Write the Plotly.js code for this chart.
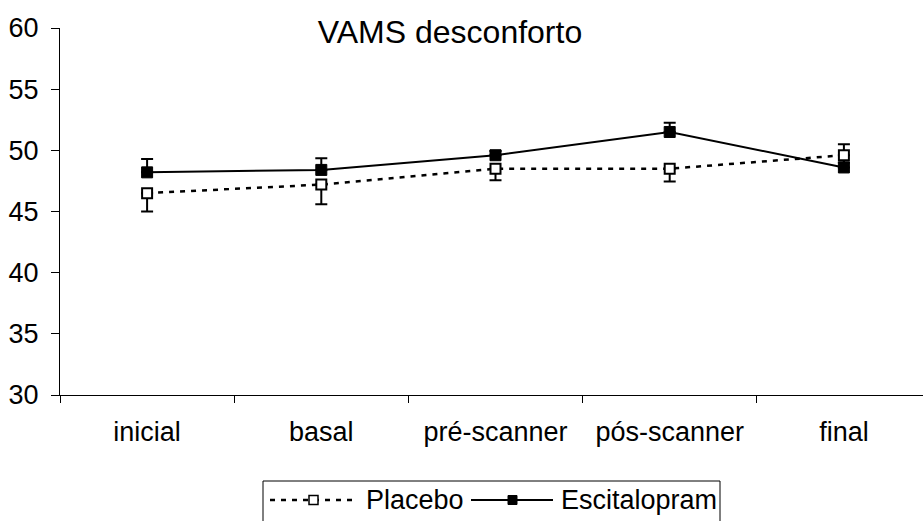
<!DOCTYPE html>
<html>
<head>
<meta charset="utf-8">
<script src="https://cdn.plot.ly/plotly-3.0.1.min.js"></script>
<style>
  html, body { margin: 0; padding: 0; background: #fff; }
  #chart { width: 923px; height: 521px; }
</style>
</head>
<body>
<div id="chart"></div>
<script>
// Visits along the study
var categories = ['inicial', 'basal', 'pré-scanner', 'pós-scanner', 'final'];

// Mean VAMS discomfort scores per group
var placebo = [46.5, 47.2, 48.5, 48.5, 49.6];
var escitalopram = [48.2, 48.4, 49.6, 51.5, 48.6];

// Error bar lengths (placebo drawn downward, escitalopram upward)
var placeboErrMinus = [1.5, 1.6, 0.95, 1.05, 0.6];
var escitalopramErrPlus = [1.1, 0.95, 0.35, 0.75, 1.9];

var yTicks = [30, 35, 40, 45, 50, 55, 60];

var FONT = 'Liberation Sans, Arial, sans-serif';
var TICK_SIZE = 27;
var W = 923, H = 521;
var M = { l: 60, r: 0, t: 28, b: 126 };
var plotW = W - M.l - M.r, plotH = H - M.t - M.b;

// pixel -> paper helpers for the hand-built legend
function px(x) { return (x - M.l) / plotW; }
function py(y) { return (H - M.b - y) / plotH; }

var zeros = categories.map(function () { return 0; });

var traceEsc = {
  type: 'scatter', mode: 'lines+markers', name: 'Escitalopram',
  x: categories, y: escitalopram,
  line: { color: '#000', width: 2 },
  marker: { symbol: 'square', size: 11, color: '#000', line: { color: '#000', width: 1 } },
  error_y: { type: 'data', symmetric: false, array: escitalopramErrPlus, arrayminus: zeros,
             color: '#000', thickness: 2, width: 6 },
  showlegend: false, hoverinfo: 'x+y'
};

var tracePlacebo = {
  type: 'scatter', mode: 'lines+markers', name: 'Placebo',
  x: categories, y: placebo,
  line: { color: '#000', width: 2.5, dash: '5px,6px' },
  marker: { symbol: 'square', size: 10, color: '#fff', line: { color: '#000', width: 2 } },
  error_y: { type: 'data', symmetric: false, array: zeros, arrayminus: placeboErrMinus,
             color: '#000', thickness: 2, width: 6 },
  showlegend: false, hoverinfo: 'x+y'
};

// Legend, drawn as shapes and text below the axis
var legY = 500;
var shapes = [
  { type: 'rect', xref: 'paper', yref: 'paper', x0: px(263), x1: px(720), y0: py(481), y1: py(540),
    line: { color: '#000', width: 1 }, fillcolor: 'rgba(0,0,0,0)' },
  { type: 'line', xref: 'paper', yref: 'paper', x0: px(270), x1: px(357), y0: py(legY), y1: py(legY),
    line: { color: '#000', width: 2.5, dash: '5px,6px' } },
  { type: 'rect', xref: 'paper', yref: 'paper', x0: px(309), x1: px(318), y0: py(legY - 4.5), y1: py(legY + 4.5),
    line: { color: '#000', width: 1.5 }, fillcolor: '#fff' },
  { type: 'line', xref: 'paper', yref: 'paper', x0: px(471), x1: px(553), y0: py(legY), y1: py(legY),
    line: { color: '#000', width: 2 } },
  { type: 'rect', xref: 'paper', yref: 'paper', x0: px(508), x1: px(517), y0: py(legY - 4.5), y1: py(legY + 4.5),
    line: { color: '#000', width: 1 }, fillcolor: '#000' }
];

var annotations = [
  { xref: 'paper', yref: 'paper', x: px(364), y: py(legY), xanchor: 'left', yanchor: 'middle',
    text: 'Placebo', showarrow: false, font: { family: FONT, size: TICK_SIZE, color: '#000' } },
  { xref: 'paper', yref: 'paper', x: px(559), y: py(legY), xanchor: 'left', yanchor: 'middle',
    text: 'Escitalopram', showarrow: false, font: { family: FONT, size: TICK_SIZE, color: '#000' } }
];

var layout = {
  width: W, height: H, autosize: false,
  margin: M,
  paper_bgcolor: '#fff', plot_bgcolor: '#fff',
  showlegend: false,
  title: { text: 'VAMS desconforto', x: 450 / W, xref: 'container', xanchor: 'center',
           y: 1 - 32 / H, yanchor: 'middle',
           font: { family: FONT, size: 32, color: '#000' } },
  xaxis: {
    type: 'category', categoryorder: 'array', categoryarray: categories,
    range: [-0.5, -0.5 + plotW / 174.2],
    showline: true, linecolor: '#000', linewidth: 1,
    ticks: 'outside', tickson: 'boundaries', ticklen: 7, tickcolor: '#000', tickwidth: 1,
    showgrid: false, zeroline: false,
    tickfont: { family: FONT, size: TICK_SIZE, color: '#000' },
    ticklabelstandoff: 13
  },
  yaxis: {
    range: [30, 60], tickvals: yTicks, ticktext: yTicks.map(String),
    showline: true, linecolor: '#000', linewidth: 1,
    ticks: 'outside', ticklen: 8, tickcolor: '#000', tickwidth: 1,
    showgrid: false, zeroline: false,
    tickfont: { family: FONT, size: TICK_SIZE, color: '#000' },
    ticklabelstandoff: 7
  },
  shapes: shapes,
  annotations: annotations
};

Plotly.newPlot('chart', [traceEsc, tracePlacebo], layout, { displayModeBar: false, staticPlot: true });
</script>
</body>
</html>
